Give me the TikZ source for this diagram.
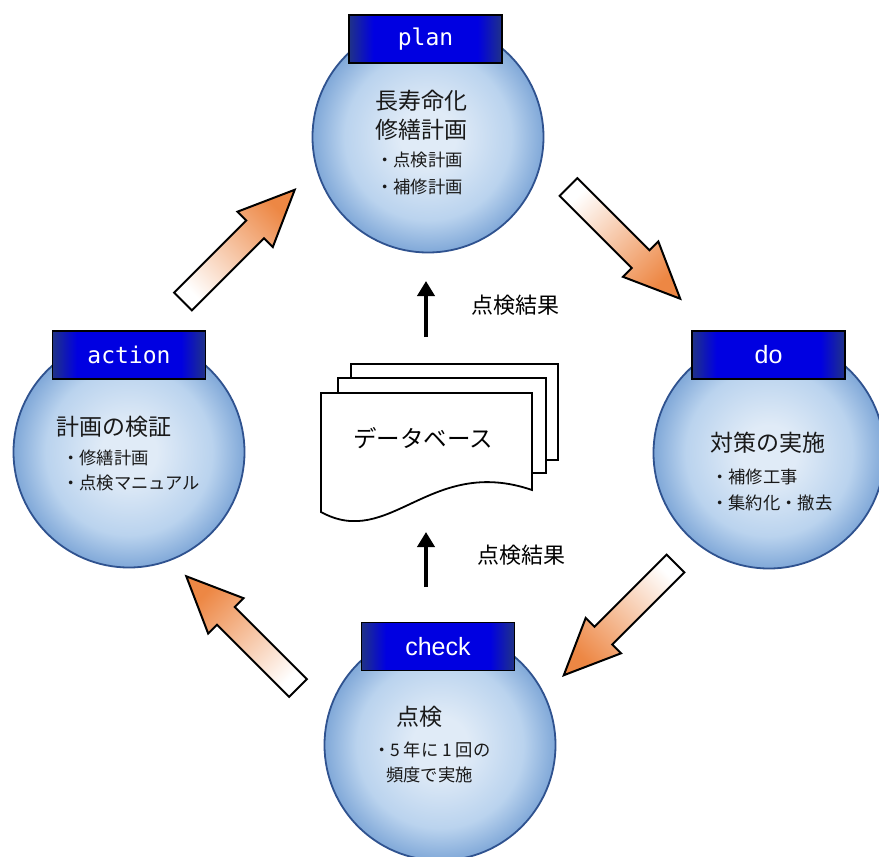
\documentclass[tikz,border=0pt]{standalone}
\usepackage{fontspec}
\newfontfamily\jp{Noto Sans CJK JP}
\newfontfamily\monof{DejaVu Sans Mono}
\newfontfamily\sansf{Liberation Sans}
\usetikzlibrary{arrows.meta,calc}
\definecolor{arroworange}{RGB}{237,135,68}
\definecolor{ballin}{RGB}{224,235,247}
\definecolor{ballmid}{RGB}{186,211,238}
\definecolor{ballout}{RGB}{128,168,216}
\definecolor{ballborder}{RGB}{47,82,143}
\definecolor{boxnavy}{RGB}{32,50,135}
\definecolor{boxblue}{RGB}{0,0,225}
\pgfdeclareradialshading{ballshade}{\pgfpoint{0bp}{0bp}}{color(0bp)=(ballin); color(6bp)=(ballin); color(18bp)=(ballmid); color(25bp)=(ballout); color(50bp)=(ballout)}
\pgfdeclarehorizontalshading{tagshade}{100bp}{color(0bp)=(boxnavy); color(25bp)=(boxnavy); color(33bp)=(boxblue); color(67bp)=(boxblue); color(75bp)=(boxnavy); color(100bp)=(boxnavy)}
\tikzset{
  ball/.style={circle, minimum size=231pt, inner sep=0pt, draw=ballborder, line width=1.8pt,
    shading=ballshade},
  tagbox/.style={rectangle, minimum width=153pt, minimum height=48pt, inner sep=0pt,
    draw=black, line width=1.2pt, shading=tagshade, text=white},
  bigtxt/.style={font=\jp\fontsize{23}{27}\selectfont, inner sep=0pt, text=black!90},
  smalltxt/.style={font=\jp\fontsize{17.3}{20}\selectfont, inner sep=0pt, text=black!90},
  doc/.style={draw=black, line width=1.8pt, fill=white, line join=miter},
  blockarr/.style={draw=black, line width=2pt, line join=miter, top color=arroworange, bottom color=white},
  smallarr/.style={-{Triangle[length=15pt,width=17pt]}, line width=4pt},
}
\newcommand\blockarrow[5]{% name, tail x, tail y, rotation, shading angle
  \begin{scope}[shift={(#2,#3)}, rotate=#4]
    \path[blockarr, shading angle=#5] (0,-12.5) -- (102,-12.5) -- (102,-25) -- (158,0)
      -- (102,25) -- (102,12.5) -- (0,12.5) -- cycle;
    \coordinate (#1) at (79,0);
  \end{scope}}
\begin{document}
\begin{tikzpicture}[x=1pt,y=-1pt]
\useasboundingbox (0,0) rectangle (879,857);
\clip (0,0) rectangle (879,857);
\fill[white] (0,0) rectangle (879,857);

% circles
\node[ball] (planc) at (428,137) {};
\node[ball] (doc) at (769,453) {};
\node[ball] (checkc) at (440,745) {};
\node[ball] (actionc) at (129,452) {};

% tags
\node[tagbox, font=\monof\fontsize{23}{26}\selectfont] (plant) at (425.5,39) {plan};
\node[tagbox, font=\sansf\fontsize{25}{28}\selectfont] (dot) at (768.5,355) {do};
\node[tagbox, font=\sansf\fontsize{25}{28}\selectfont] (checkt) at (438,646.5) {check};
\node[tagbox, font=\monof\fontsize{23}{26}\selectfont] (actiont) at (129,355) {action};

% plan text
\node[bigtxt] (p1) at (421,101) {長寿命化};
\node[bigtxt] (p2) at (421,130) {修繕計画};
\node[smalltxt, anchor=west] (p3) at (376,160) {・点検計画};
\node[smalltxt, anchor=west] (p4) at (376,187) {・補修計画};

% do text
\node[bigtxt] (d1) at (768,443) {対策の実施};
\node[smalltxt, anchor=west] (d2) at (711,477) {・補修工事};
\node[smalltxt, anchor=west] (d3) at (711,503) {・集約化・撤去};

% action text
\node[bigtxt, anchor=west] (a1) at (56,427) {計画の検証};
\node[smalltxt, anchor=west] (a2) at (62,458) {・修繕計画};
\node[smalltxt, anchor=west] (a3) at (62,483) {・点検マニュアル};

% check text
\node[bigtxt, anchor=west] (c1) at (396,717) {点検};
\node[smalltxt, anchor=west] (c2) at (373,750) {・5 年に 1 回の};
\node[smalltxt, anchor=west] (c3) at (386,775) {頻度で実施};

% database
\draw[doc] (351,364) rectangle (558,460);
\draw[doc] (338,378) rectangle (546,473);
\draw[doc] (321,393) -- (532,393) -- (532,490) .. controls (430,455) and (390,550) .. (321,512) -- cycle;
\node[font=\jp\fontsize{23.5}{27}\selectfont, inner sep=0pt] (db) at (423,438) {データベース};

% small arrows
\coordinate (s1) at (426,337);
\coordinate (e1) at (426,281);
\coordinate (s2) at (426,587);
\coordinate (e2) at (426,532);
\draw[smallarr] (s1) -- (e1);
\draw[smallarr] (s2) -- (e2);
\node[font=\jp\fontsize{22}{25}\selectfont, inner sep=0pt] (r1) at (515,305) {点検結果};
\node[font=\jp\fontsize{22}{25}\selectfont, inner sep=0pt] (r2) at (521,555) {点検結果};

% block arrows
\blockarrow{ba1}{183}{301.5}{45}{-45}
\blockarrow{ba2}{568.5}{187}{-45}{-135}
\blockarrow{ba3}{675.5}{563.5}{-135}{135}
\blockarrow{ba4}{298}{688}{135}{45}
\end{tikzpicture}
\end{document}
